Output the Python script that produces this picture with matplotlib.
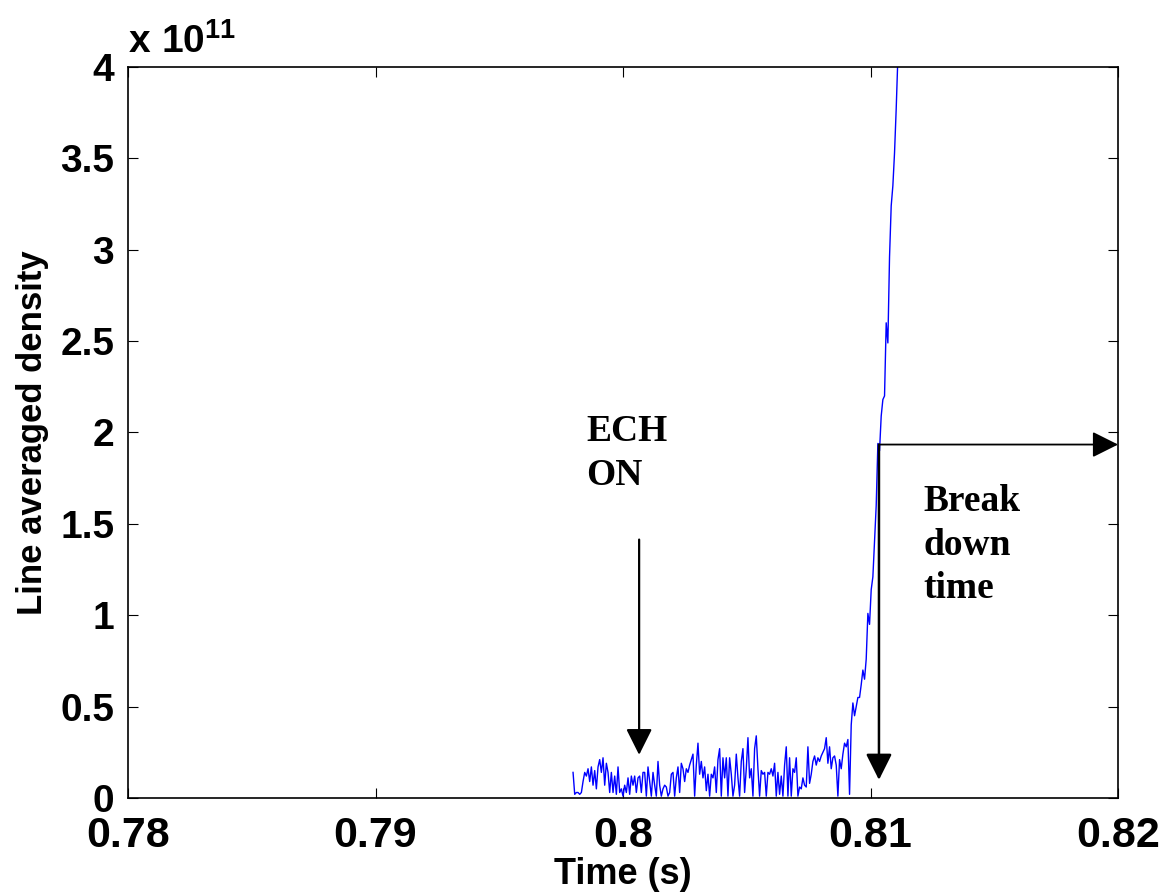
import numpy as np
import matplotlib
matplotlib.use('Agg')
import matplotlib.pyplot as plt

plt.rcParams['font.family'] = ['Liberation Sans', 'DejaVu Sans']
plt.rcParams['mathtext.fontset'] = 'custom'
plt.rcParams['mathtext.rm'] = 'Liberation Sans:bold'
plt.rcParams['mathtext.it'] = 'Liberation Sans:bold'
plt.rcParams['mathtext.bf'] = 'Liberation Sans:bold'

# sampling of the density signal
t_start = 0.79798   # s
dt = 6.73e-5        # s

# line averaged density, units of 1e11
density = [
    0.14, 0.02, 0.03, 0.03, 0.02, 0.03, 0.09, 0.14, 0.12, 0.16,
    0.09, 0.17, 0.07, 0.15, 0.05, 0.17, 0.21, 0.14, 0.22, 0.07,
    0.19, 0.14, 0.03, 0.14, 0.03, 0.12, 0.02, 0.17, 0.03, 0.05,
    0.01, 0.07, 0.03, 0.11, 0.02, 0.12, 0.07, 0.12, 0.03, 0.11,
    0.12,
    0.03, 0.14, 0.14, 0.01, 0.17, 0.09, 0.01, 0.14, 0.07, 0.01,
    0.20, 0.07, 0.01, 0.05, 0.07, 0.06, 0.01, 0.03, 0.13, 0.14,
    0.01, 0.11, 0.17, 0.03, 0.19, 0.16, 0.09, 0.16, 0.14, 0.18,
    0.21, 0.24, 0.01, 0.18, 0.30, 0.13, 0.20, 0.11, 0.17, 0.04,
    0.13,
    0.01, 0.13, 0.11, 0.17, 0.03, 0.21, 0.27, 0.01, 0.22, 0.11,
    0.22, 0.01, 0.22, 0.13, 0.01, 0.07, 0.24, 0.11, 0.01, 0.20,
    0.27, 0.03, 0.16, 0.33, 0.11, 0.16, 0.01, 0.27, 0.34, 0.16,
    0.01, 0.15, 0.13, 0.14, 0.01, 0.14, 0.13, 0.16, 0.12, 0.19,
    0.01, 0.14,
    0.02, 0.12, 0.01, 0.18, 0.28, 0.01, 0.22, 0.01, 0.16, 0.14,
    0.22, 0.01, 0.06, 0.05, 0.11, 0.07, 0.06, 0.28, 0.08, 0.13,
    0.20, 0.23, 0.18, 0.22, 0.20, 0.23, 0.25, 0.27, 0.33, 0.19,
    0.28, 0.16, 0.22, 0.23, 0.18, 0.01, 0.21, 0.16, 0.24, 0.30,
    0.28, 0.32, 0.02, 0.40, 0.52,
    0.45, 0.50, 0.55, 0.55, 0.62, 0.70, 0.65, 0.76, 1.01, 0.95,
    1.14, 1.21, 1.41, 1.60, 1.94, 1.90, 2.09, 2.18, 2.20, 2.60,
    2.49, 2.96, 3.24, 3.35, 3.53, 3.77, 4.05, 4.30,
]
time = t_start + dt * np.arange(len(density))

x_ticks = [0.78, 0.79, 0.80, 0.81, 0.82]
x_labels = ['0.78', '0.79', '0.8', '0.81', '0.82']
y_ticks = [0, 0.5, 1, 1.5, 2, 2.5, 3, 3.5, 4]
y_labels = ['0', '0.5', '1', '1.5', '2', '2.5', '3', '3.5', '4']

ech_time = 0.80065
breakdown_time = 0.81034
breakdown_level = 1.934

fig = plt.figure(figsize=(11.65, 8.93), dpi=100)
ax = fig.add_axes([0.1099, 0.1064, 0.8498, 0.8186])

ax.plot(time, density, color='#0000ff', lw=1.0)

ax.set_xlim(0.78, 0.82)
ax.set_ylim(0, 4)
ax.set_xticks(x_ticks)
ax.set_xticklabels(x_labels, fontsize=31, fontweight='bold')
ax.set_yticks(y_ticks)
ax.set_yticklabels(y_labels, fontsize=28, fontweight='bold')
ax.tick_params(direction='in', length=7, width=0.8, top=True, right=True)
ax.tick_params(axis='x', pad=13)
ax.tick_params(axis='y', pad=10)
for s in ax.spines.values():
    s.set_linewidth(1.2)

ax.set_xlabel('Time (s)', fontsize=26, fontweight='bold', va='baseline')
ax.xaxis.set_label_coords(0.5, -0.1178)
ax.set_ylabel('Line averaged density', fontsize=25, fontweight='bold', labelpad=8)

fig.text(0.1099, 0.9406, r'$\mathrm{x\ 10^{11}}$', fontsize=28, va='baseline')

# ECH ON arrow
ax.annotate('', xy=(ech_time, 0.236), xytext=(ech_time, 1.414),
            arrowprops=dict(arrowstyle='-|>,head_length=0.8,head_width=0.4',
                            color='k', lw=1.6, mutation_scale=20,
                            shrinkA=0, shrinkB=0))
ax.text(0.79851, 1.715, 'ECH\nON', family=['Liberation Serif', 'DejaVu Serif'],
        fontsize=27, fontweight='bold', va='baseline', linespacing=1.3)

# breakdown arrows
ax.annotate('', xy=(breakdown_time, 0.099), xytext=(breakdown_time, breakdown_level),
            arrowprops=dict(arrowstyle='-|>,head_length=0.8,head_width=0.4',
                            color='k', lw=1.8, mutation_scale=20,
                            shrinkA=0, shrinkB=0))
ax.annotate('', xy=(0.82, breakdown_level), xytext=(breakdown_time, breakdown_level),
            annotation_clip=False,
            arrowprops=dict(arrowstyle='-|>,head_length=0.8,head_width=0.4',
                            color='k', lw=1.3, mutation_scale=20,
                            shrinkA=0, shrinkB=0))
ax.text(0.81212, 1.096, 'Break\ndown\ntime', family=['Liberation Serif', 'DejaVu Serif'],
        fontsize=27, fontweight='bold', va='baseline', linespacing=1.3)

fig.savefig('out.png', dpi=100)
